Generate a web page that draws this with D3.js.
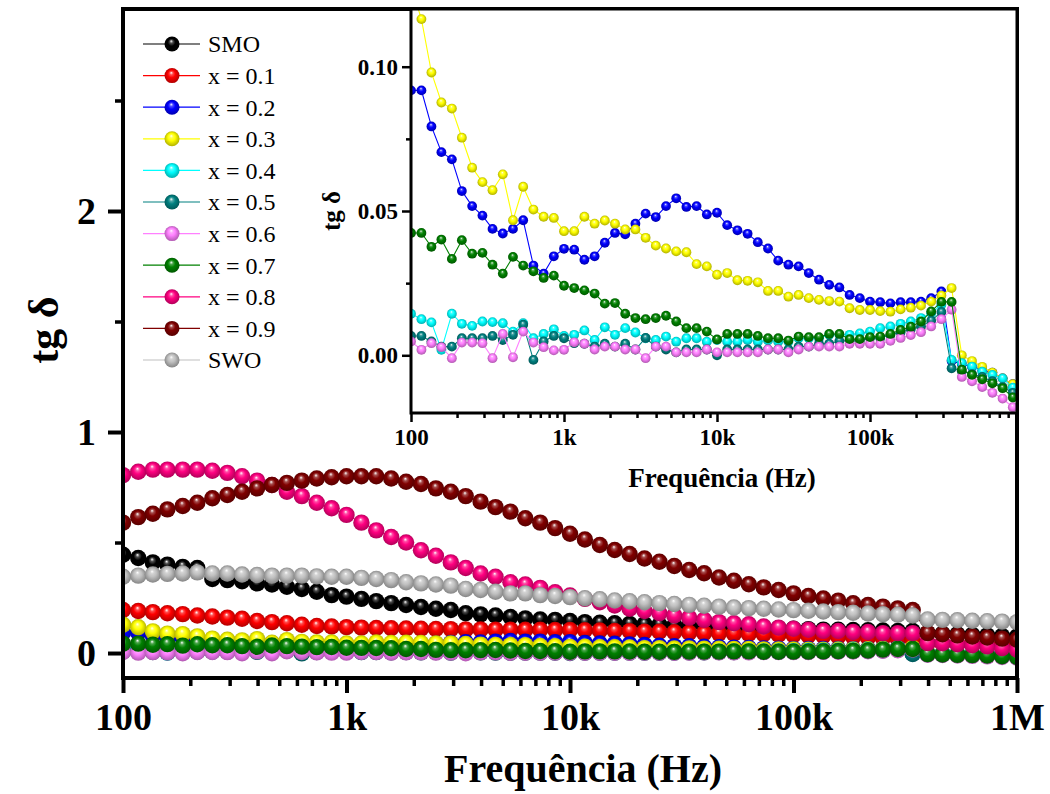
<!DOCTYPE html>
<html>
<head>
<meta charset="utf-8">
<script src="https://cdn.jsdelivr.net/npm/d3@7"></script>
<style>
  body { margin: 0; background: #ffffff; }
  svg { display: block; }
  text { font-family: "Liberation Serif", "Times New Roman", serif; fill: #000; }
</style>
</head>
<body>
<svg id="chart" width="1050" height="794"></svg>
<script>
// Frequency sweep (Hz), 15 points per decade from 100 Hz to 1 MHz
const freq = [100, 117, 136, 158, 185, 215, 251, 293, 341, 398, 464, 541, 631, 736, 858,
  1000, 1166, 1359, 1585, 1848, 2154, 2512, 2929, 3415, 3981, 4642, 5412, 6310, 7356, 8577,
  10000, 11659, 13594, 15849, 18478, 21544, 25119, 29286, 34146, 39811, 46416, 54117, 63096, 73564, 85770,
  100000, 116591, 135936, 158489, 184785, 215443, 251189, 292864, 341455, 398107, 464159, 541170, 630957, 735642, 857696,
  1000000];

// Loss tangent (tg δ) for each composition
const tgSMO = [0.445, 0.43, 0.41, 0.40, 0.39, 0.385, 0.335, 0.33, 0.325, 0.315, 0.31, 0.30, 0.29, 0.277, 0.262,
  0.255, 0.245, 0.235, 0.226, 0.217, 0.208, 0.20, 0.195, 0.18, 0.175, 0.17, 0.163, 0.157, 0.152, 0.15,
  0.145, 0.14, 0.137, 0.135, 0.132, 0.13, 0.128, 0.126, 0.124, 0.122, 0.12, 0.118, 0.116, 0.114, 0.112,
  0.11, 0.108, 0.106, 0.105, 0.104, 0.103, 0.102, 0.10, 0.10, 0.09, 0.087, 0.085, 0.082, 0.08, 0.077, 0.075];
const tgX01 = [0.195, 0.19, 0.185, 0.18, 0.176, 0.17, 0.165, 0.16, 0.155, 0.145, 0.14, 0.135, 0.128, 0.122, 0.12,
  0.117, 0.115, 0.113, 0.112, 0.111, 0.11, 0.109, 0.108, 0.107, 0.107, 0.106, 0.106, 0.105, 0.105, 0.104,
  0.104, 0.103, 0.102, 0.10, 0.099, 0.097, 0.096, 0.094, 0.092, 0.09, 0.089, 0.088, 0.086, 0.085, 0.083,
  0.081, 0.079, 0.077, 0.075, 0.073, 0.07, 0.067, 0.064, 0.06, 0.045, 0.043, 0.041, 0.039, 0.037, 0.035, 0.033];
const tgX02 = [0.0918, 0.0918, 0.0793, 0.0704, 0.0679, 0.0569, 0.0517, 0.0484, 0.0438, 0.0422, 0.0438, 0.0468, 0.0311, 0.0283, 0.0343,
  0.0369, 0.0366, 0.0331, 0.0343, 0.039, 0.0424, 0.0419, 0.0456, 0.0491, 0.0479, 0.0517, 0.0544, 0.0514, 0.0517, 0.0488,
  0.0494, 0.0451, 0.0433, 0.0421, 0.0392, 0.037, 0.0328, 0.0314, 0.0308, 0.0285, 0.0262, 0.0244, 0.0235, 0.0209, 0.0198,
  0.0186, 0.0184, 0.018, 0.0184, 0.0184, 0.0186, 0.0198, 0.0221, -0.002, -0.003, -0.004, -0.005, -0.006, -0.008, -0.010, -0.013];
const tgX03 = [0.128, 0.1165, 0.098, 0.0876, 0.0855, 0.0754, 0.065, 0.060, 0.0572, 0.0627, 0.0468, 0.0584, 0.0505, 0.048, 0.0476,
  0.043, 0.043, 0.048, 0.0456, 0.0467, 0.0456, 0.0436, 0.0436, 0.0407, 0.038, 0.037, 0.036, 0.0357, 0.0316, 0.0308,
  0.0279, 0.0285, 0.026, 0.0258, 0.0253, 0.0223, 0.0223, 0.0203, 0.0209, 0.0198, 0.0192, 0.0188, 0.0186, 0.0163, 0.0157,
  0.0157, 0.0153, 0.0151, 0.0159, 0.0165, 0.0172, 0.0186, 0.0207, 0.0233, 0.000, -0.002, -0.004, -0.006, -0.008, -0.010, -0.012];
const tgX04 = [0.0144, 0.0125, 0.0114, 0.0019, 0.0144, 0.0109, 0.0102, 0.0117, 0.0115, 0.0111, 0.0082, 0.0111, 0.0059, 0.0074, 0.009,
  0.0067, 0.0071, 0.0086, 0.0053, 0.0097, 0.0071, 0.0094, 0.0079, 0.0059, 0.0053, 0.0065, 0.0047, 0.0059, 0.0059, 0.0047,
  0.0053, 0.0047, 0.0047, 0.0053, 0.0047, 0.0051, 0.0047, 0.0047, 0.0059, 0.0059, 0.0059, 0.0071, 0.0071, 0.0071, 0.0076,
  0.0082, 0.0094, 0.010, 0.0109, 0.0117, 0.0129, 0.0146, 0.0175, -0.0016, -0.0027, -0.0039, -0.0057, -0.0068, -0.008, -0.0112, -0.0135];
const tgX05 = [0.0067, 0.0067, 0.0048, 0.003, 0.003, 0.0059, 0.0059, 0.0059, 0.0067, 0.0053, 0.0071, 0.0106, -0.0016, 0.0048, 0.0067,
  0.0059, 0.0042, 0.004, 0.003, 0.004, 0.003, 0.004, 0.002, 0.006, 0.003, 0.002, 0.001, 0.002, 0.002, 0.002,
  0.000, 0.002, 0.002, 0.002, 0.002, 0.002, 0.002, 0.002, 0.003, 0.003, 0.004, 0.004, 0.005, 0.005, 0.005,
  0.006, 0.006, 0.007, 0.008, 0.009, 0.010, 0.012, 0.015, -0.0045, -0.0055, -0.0065, -0.0075, -0.009, -0.011, -0.013, -0.016];
const tgX06 = [0.0048, 0.0019, 0.0042, 0.0028, -0.001, 0.0044, 0.0044, 0.0042, -0.001, 0.0074, -0.0007, 0.0082, 0.0044, 0.0028, 0.0017,
  0.0019, 0.0045, 0.004, 0.002, 0.003, 0.003, 0.002, 0.002, -0.001, 0.003, 0.003, 0.001, 0.001, 0.001, 0.002,
  0.001, 0.001, 0.001, 0.001, 0.001, 0.002, 0.002, 0.001, 0.002, 0.003, 0.003, 0.003, 0.003, 0.004, 0.004,
  0.004, 0.004, 0.005, 0.006, 0.007, 0.008, 0.010, 0.0125, 0.0158, -0.0075, -0.009, -0.011, -0.013, -0.015, -0.018, -0.021];
const tgX07 = [0.0424, 0.0424, 0.0376, 0.0401, 0.0334, 0.0399, 0.0352, 0.0355, 0.0314, 0.0283, 0.0341, 0.0311, 0.0291, 0.0268, 0.0276,
  0.0241, 0.0233, 0.0225, 0.0214, 0.0179, 0.0181, 0.0144, 0.0129, 0.0125, 0.0129, 0.0137, 0.0117, 0.0094, 0.0094, 0.0082,
  0.0055, 0.0074, 0.0074, 0.0074, 0.0067, 0.0059, 0.0059, 0.0051, 0.0065, 0.0063, 0.0063, 0.0074, 0.0074, 0.0056, 0.0056,
  0.0063, 0.0065, 0.0074, 0.0088, 0.0099, 0.0117, 0.0152, 0.0185, 0.0185, -0.005, -0.0068, -0.0083, -0.0097, -0.0114, -0.0146, -0.018];
const tgX08 = [0.805, 0.82, 0.83, 0.83, 0.83, 0.83, 0.825, 0.815, 0.80, 0.78, 0.76, 0.73, 0.71, 0.68, 0.655,
  0.625, 0.59, 0.555, 0.525, 0.50, 0.465, 0.44, 0.41, 0.385, 0.36, 0.345, 0.32, 0.31, 0.295, 0.275,
  0.26, 0.245, 0.23, 0.215, 0.20, 0.19, 0.18, 0.17, 0.16, 0.15, 0.14, 0.135, 0.13, 0.12, 0.115,
  0.11, 0.105, 0.10, 0.10, 0.095, 0.095, 0.09, 0.09, 0.09, 0.045, 0.044, 0.04, 0.035, 0.03, 0.022, 0.015];
const tgX09 = [0.59, 0.615, 0.63, 0.65, 0.665, 0.68, 0.70, 0.715, 0.73, 0.745, 0.76, 0.77, 0.78, 0.79, 0.795,
  0.80, 0.80, 0.80, 0.79, 0.775, 0.765, 0.745, 0.73, 0.71, 0.685, 0.66, 0.64, 0.61, 0.59, 0.565,
  0.54, 0.514, 0.489, 0.466, 0.448, 0.428, 0.413, 0.394, 0.376, 0.361, 0.342, 0.327, 0.311, 0.297, 0.285,
  0.27, 0.258, 0.247, 0.237, 0.225, 0.217, 0.21, 0.202, 0.195, 0.09, 0.085, 0.08, 0.075, 0.07, 0.065, 0.06];
const tgSWO = [0.345, 0.35, 0.355, 0.358, 0.36, 0.365, 0.36, 0.36, 0.355, 0.353, 0.35, 0.35, 0.35, 0.347, 0.345,
  0.345, 0.34, 0.335, 0.33, 0.32, 0.315, 0.31, 0.305, 0.29, 0.285, 0.277, 0.27, 0.27, 0.262, 0.258,
  0.253, 0.248, 0.243, 0.238, 0.234, 0.23, 0.226, 0.222, 0.218, 0.214, 0.21, 0.206, 0.203, 0.20, 0.197,
  0.194, 0.191, 0.188, 0.185, 0.182, 0.179, 0.176, 0.173, 0.17, 0.152, 0.15, 0.148, 0.146, 0.144, 0.142, 0.14];

const seriesNames = ["SMO", "x = 0.1", "x = 0.2", "x = 0.3", "x = 0.4", "x = 0.5", "x = 0.6", "x = 0.7", "x = 0.8", "x = 0.9", "SWO"];
const seriesValues = [tgSMO, tgX01, tgX02, tgX03, tgX04, tgX05, tgX06, tgX07, tgX08, tgX09, tgSWO];
const seriesColors = ["#000000", "#ff0000", "#0000ff", "#ffff00", "#00ffff", "#008080", "#ff80ff", "#008000", "#ff0080", "#800000", "#c0c0c0"];
// Compositions shown again in the zoomed inset
const insetNames = ["x = 0.2", "x = 0.3", "x = 0.4", "x = 0.5", "x = 0.6", "x = 0.7"];

// Axis ticks
const mainXTicks = [100, 1e3, 1e4, 1e5, 1e6];
const mainXLabels = ["100", "1k", "10k", "100k", "1M"];
const mainYTicks = [0, 1, 2];
const mainYMinor = [0.5, 1.5, 2.5];
const insetXTicks = [100, 1e3, 1e4, 1e5];
const insetXLabels = ["100", "1k", "10k", "100k"];
const insetYTicks = [0, 0.05, 0.10];
const insetYLabels = ["0.00", "0.05", "0.10"];
const insetYMinor = [0.025, 0.075];

const series = seriesNames.map((name, i) => ({
  name, color: seriesColors[i], idx: i,
  points: freq.map((f, j) => ({ f, v: seriesValues[i][j] }))
}));

const svg = d3.select("#chart");
const defs = svg.append("defs");

// Shaded sphere fill for each colour
series.forEach(s => {
  const c = d3.color(s.color);
  const g = defs.append("radialGradient").attr("id", "ball" + s.idx)
    .attr("cx", "50%").attr("cy", "50%").attr("r", "55%").attr("fx", "45%").attr("fy", "30%");
  g.append("stop").attr("offset", "0%").attr("stop-color", "#ffffff");
  g.append("stop").attr("offset", "20%").attr("stop-color", d3.interpolateRgb("#ffffff", s.color)(0.7));
  g.append("stop").attr("offset", "45%").attr("stop-color", s.color);
  g.append("stop").attr("offset", "100%").attr("stop-color", c.darker(1.2).formatHex());
});

// ---------- main panel ----------
const M = { left: 123, right: 1017, top: 9, bottom: 678 };
const x = d3.scaleLog().domain([100, 1e6]).range([M.left, M.right]);
const y = d3.scaleLinear().domain([-0.113, 2.914]).range([M.bottom, M.top]);

defs.append("clipPath").attr("id", "clipMain").append("rect")
  .attr("x", M.left).attr("y", M.top).attr("width", M.right - M.left).attr("height", M.bottom - M.top);

const mainData = svg.append("g").attr("clip-path", "url(#clipMain)");
const lineMain = d3.line().x(d => x(d.f)).y(d => y(d.v));
series.forEach(s => {
  const g = mainData.append("g");
  g.append("path").datum(s.points).attr("d", lineMain)
    .attr("fill", "none").attr("stroke", s.color).attr("stroke-width", 1);
  g.selectAll("circle").data(s.points).join("circle")
    .attr("cx", d => x(d.f)).attr("cy", d => y(d.v)).attr("r", 8.2)
    .attr("fill", `url(#ball${s.idx})`);
});

// minor ticks generated per decade
const minorX = [];
[100, 1e3, 1e4, 1e5].forEach(dec => { for (let m = 2; m <= 9; m++) minorX.push(dec * m); });

function styleAxis(g, width, fontSize) {
  g.select(".domain").remove();
  g.selectAll(".tick line").attr("stroke", "#000").attr("stroke-width", width);
  g.selectAll(".tick text").attr("font-size", fontSize).attr("font-weight", "bold")
    .attr("font-family", '"Liberation Serif", "Times New Roman", serif');
}

svg.append("g").attr("transform", `translate(0,${M.bottom})`)
  .call(d3.axisBottom(x).tickValues(minorX).tickFormat("").tickSize(8))
  .call(g => styleAxis(g, 3.5, 0));
svg.append("g").attr("transform", `translate(0,${M.bottom})`)
  .call(d3.axisBottom(x).tickValues(mainXTicks).tickFormat((d, i) => mainXLabels[i]).tickSize(15).tickPadding(10))
  .call(g => styleAxis(g, 4, 38));
svg.append("g").attr("transform", `translate(${M.left},0)`)
  .call(d3.axisLeft(y).tickValues(mainYMinor).tickFormat("").tickSize(8))
  .call(g => styleAxis(g, 3.5, 0));
svg.append("g").attr("transform", `translate(${M.left},0)`)
  .call(d3.axisLeft(y).tickValues(mainYTicks).tickFormat(d3.format("d")).tickSize(15).tickPadding(12))
  .call(g => styleAxis(g, 4, 38));

svg.append("rect").attr("x", M.left).attr("y", M.top)
  .attr("width", M.right - M.left).attr("height", M.bottom - M.top)
  .attr("fill", "none").attr("stroke", "#000").attr("stroke-width", 4);

svg.append("text").attr("x", (M.left + M.right) / 2 + 13).attr("y", 782)
  .attr("text-anchor", "middle").attr("font-size", 40).attr("font-weight", "bold")
  .text("Frequência (Hz)");
svg.append("text").attr("transform", "translate(58,330) rotate(-90)")
  .attr("text-anchor", "middle").attr("font-size", 42).attr("font-weight", "bold")
  .text("tg δ");

// ---------- legend ----------
const legend = svg.append("g");
series.forEach((s, i) => {
  const ly = 44 + i * 31.6;
  legend.append("line").attr("x1", 143).attr("x2", 200).attr("y1", ly).attr("y2", ly)
    .attr("stroke", s.color).attr("stroke-width", 1.2);
  legend.append("circle").attr("cx", 172).attr("cy", ly).attr("r", 7.5)
    .attr("fill", `url(#ball${s.idx})`);
  legend.append("text").attr("x", 208).attr("y", ly).attr("dy", "0.35em")
    .attr("font-size", 24).text(s.name);
});

// ---------- inset ----------
const I = { left: 411, right: 1017, top: 9, bottom: 413 };
const xi = d3.scaleLog().domain([100, 1e6]).range([I.left, I.left + 4 * 153]);
const yi = d3.scaleLinear().domain([-0.02, 0.12]).range([I.bottom, I.top]);

svg.append("rect").attr("x", I.left).attr("y", I.top)
  .attr("width", I.right - I.left).attr("height", I.bottom - I.top).attr("fill", "#fff");

defs.append("clipPath").attr("id", "clipInset").append("rect")
  .attr("x", I.left).attr("y", I.top).attr("width", I.right - I.left).attr("height", I.bottom - I.top);

const insetData = svg.append("g").attr("clip-path", "url(#clipInset)");
const lineInset = d3.line().x(d => xi(d.f)).y(d => yi(d.v));
series.filter(s => insetNames.includes(s.name)).forEach(s => {
  const g = insetData.append("g");
  g.append("path").datum(s.points).attr("d", lineInset)
    .attr("fill", "none").attr("stroke", s.color).attr("stroke-width", 1.1);
  g.selectAll("circle").data(s.points).join("circle")
    .attr("cx", d => xi(d.f)).attr("cy", d => yi(d.v)).attr("r", 4.9)
    .attr("fill", `url(#ball${s.idx})`);
});

const minorXi = minorX.concat([2e5, 3e5, 4e5, 5e5, 6e5, 7e5, 8e5, 9e5].filter(v => !minorX.includes(v)));
svg.append("g").attr("transform", `translate(0,${I.bottom})`)
  .call(d3.axisBottom(xi).tickValues(minorXi).tickFormat("").tickSize(5))
  .call(g => styleAxis(g, 2.5, 0));
svg.append("g").attr("transform", `translate(0,${I.bottom})`)
  .call(d3.axisBottom(xi).tickValues(insetXTicks).tickFormat((d, i) => insetXLabels[i]).tickSize(9).tickPadding(7))
  .call(g => styleAxis(g, 2.5, 23));
svg.append("g").attr("transform", `translate(${I.left},0)`)
  .call(d3.axisLeft(yi).tickValues(insetYMinor).tickFormat("").tickSize(5))
  .call(g => styleAxis(g, 2.5, 0));
svg.append("g").attr("transform", `translate(${I.left},0)`)
  .call(d3.axisLeft(yi).tickValues(insetYTicks).tickFormat((d, i) => insetYLabels[i]).tickSize(9).tickPadding(4))
  .call(g => styleAxis(g, 2.5, 23));

svg.append("rect").attr("x", I.left).attr("y", I.top)
  .attr("width", I.right - I.left).attr("height", I.bottom - I.top)
  .attr("fill", "none").attr("stroke", "#000").attr("stroke-width", 3);

svg.append("text").attr("x", 722).attr("y", 487)
  .attr("text-anchor", "middle").attr("font-size", 27).attr("font-weight", "bold")
  .text("Frequência (Hz)");
svg.append("text").attr("transform", "translate(340,211) rotate(-90)")
  .attr("text-anchor", "middle").attr("font-size", 25).attr("font-weight", "bold")
  .text("tg δ");
</script>
</body>
</html>
